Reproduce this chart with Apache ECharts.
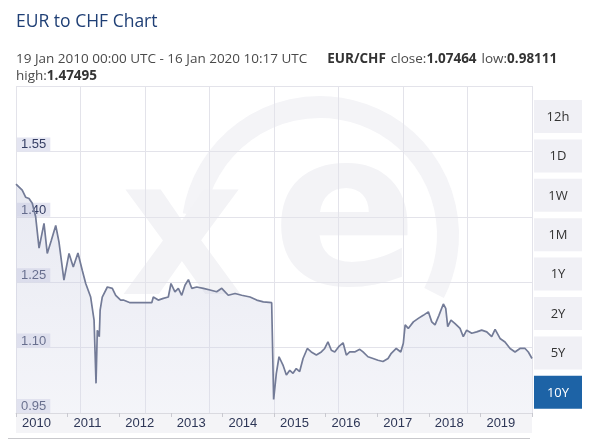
<!DOCTYPE html>
<html>
<head>
<meta charset="utf-8">
<script src="https://cdn.jsdelivr.net/npm/echarts@6/dist/echarts.min.js"></script>
<style>
html, body { margin: 0; padding: 0; background: #fff; }
#chart { width: 592px; height: 443px; }
</style>
</head>
<body>
<div id="chart"></div>
<script>
// EUR/CHF daily close
var dates = [
  '2010-01-19','2010-03-04','2010-03-28','2010-04-21','2010-05-14','2010-06-07','2010-07-01','2010-08-05',
  '2010-08-28','2010-09-26','2010-10-27','2010-11-19','2010-12-24','2011-01-29','2011-02-28','2011-04-02',
  '2011-05-03','2011-05-27','2011-07-01','2011-07-25','2011-08-08','2011-08-17','2011-08-31','2011-09-06',
  '2011-09-21','2011-10-27','2011-12-01','2011-12-25','2012-01-29','2012-02-17','2012-04-05','2012-09-05',
  '2012-09-16','2012-10-21','2012-11-26','2012-12-31','2013-01-19','2013-02-16','2013-03-12','2013-04-05',
  '2013-04-28','2013-05-22','2013-06-15','2013-07-20','2013-09-05','2013-10-22','2013-12-08','2014-01-13',
  '2014-02-28','2014-04-17','2014-06-03','2014-08-01','2014-09-17','2014-11-03','2015-01-01','2015-01-14',
  '2015-01-15','2015-02-03','2015-02-22','2015-03-22','2015-04-15','2015-05-09','2015-06-01','2015-06-24',
  '2015-07-18','2015-08-11','2015-09-10','2015-10-08','2015-11-13','2015-12-18','2016-01-11','2016-02-03',
  '2016-02-27','2016-03-22','2016-04-19','2016-05-20','2016-06-12','2016-07-06','2016-08-10','2016-09-15',
  '2016-10-08','2016-11-12','2016-12-18','2017-01-22','2017-02-26','2017-04-03','2017-04-26','2017-05-31',
  '2017-07-02','2017-07-20','2017-08-02','2017-08-24','2017-09-29','2017-11-03','2017-12-08','2018-01-13',
  '2018-02-06','2018-03-01','2018-03-29','2018-04-29','2018-05-16','2018-05-30','2018-06-22','2018-07-21',
  '2018-08-25','2018-09-17','2018-10-11','2018-11-16','2018-12-21','2019-01-25','2019-03-02','2019-04-06',
  '2019-04-30','2019-06-04','2019-07-09','2019-08-14','2019-09-18','2019-10-23','2019-11-28','2019-12-21',
  '2020-01-16'
];
var rates = [
  1.475, 1.461, 1.445, 1.442, 1.431, 1.400, 1.328, 1.385,
  1.316, 1.346, 1.380, 1.342, 1.255, 1.316, 1.285, 1.317,
  1.277, 1.247, 1.216, 1.163, 1.018, 1.140, 1.125, 1.186,
  1.216, 1.239, 1.236, 1.220, 1.209, 1.209, 1.203, 1.203,
  1.216, 1.209, 1.213, 1.216, 1.247, 1.228, 1.236, 1.220,
  1.243, 1.256, 1.236, 1.239, 1.236, 1.232, 1.228, 1.236,
  1.220, 1.224, 1.220, 1.216, 1.209, 1.205, 1.203, 1.201,
  0.981, 1.041, 1.079, 1.060, 1.037, 1.048, 1.041, 1.052,
  1.045, 1.075, 1.098, 1.090, 1.083, 1.090, 1.098, 1.113,
  1.094, 1.090, 1.102, 1.111, 1.083, 1.090, 1.090, 1.096,
  1.090, 1.079, 1.075, 1.071, 1.068, 1.075, 1.087, 1.098,
  1.090, 1.110, 1.152, 1.144, 1.159, 1.167, 1.174, 1.182,
  1.159, 1.152, 1.174, 1.200, 1.190, 1.148, 1.163, 1.155,
  1.144, 1.125, 1.140, 1.133, 1.136, 1.140, 1.136, 1.125,
  1.142, 1.121, 1.113, 1.098, 1.090, 1.098, 1.098, 1.090,
  1.075
];
var yearLabels = ['2010','2011','2012','2013','2014','2015','2016','2017','2018','2019'];
var rateTicks = ['0.95','1.10','1.25','1.40','1.55'];
var rangeButtons = ['12h','1D','1W','1M','1Y','2Y','5Y','10Y'];
var activeButton = '10Y';

var chartTitle = 'EUR to CHF Chart';
var periodText = '19 Jan 2010 00:00 UTC - 16 Jan 2020 10:17 UTC';
var pairName = 'EUR/CHF';
var closeRate = '1.07464';
var lowRate = '0.98111';
var highRate = '1.47495';

var chart = echarts.init(document.getElementById('chart'), null, {renderer: 'canvas'});

var seriesData = dates.map(function (d, i) { return [d, rates[i]]; });

var headFont = 'Open Sans';
var axisFont = 'Liberation Sans';

// range buttons on the right
var buttons = [];
rangeButtons.forEach(function (b, i) {
  var on = b === activeButton;
  buttons.push({
    type: 'rect', left: 534, top: 100 + i * 39.4,
    shape: {width: 48, height: 33},
    style: {fill: on ? '#1d63a6' : '#f0f0f5'}
  });
  buttons.push({
    type: 'text', x: 558, y: 117 + i * 39.4,
    style: {text: b, fill: on ? '#fff' : '#333', font: '13px ' + headFont, align: 'center', verticalAlign: 'middle'}
  });
});

var graphics = [
  // xe watermark
  {type: 'arc', z: -10, silent: true, shape: {cx: 320, cy: 235, r: 128, startAngle: Math.PI * 1.05, endAngle: Math.PI * 2.15},
   style: {fill: 'none', stroke: '#f4f4f7', lineWidth: 22}},
  {type: 'text', z: -10, silent: true, x: 182, y: 245,
   style: {text: 'x', font: 'bold 190px "DejaVu Sans"', fill: '#f3f3f6', align: 'center', verticalAlign: 'middle'}},
  {type: 'text', z: -10, silent: true, x: 345, y: 228,
   style: {text: 'e', font: 'bold 215px "DejaVu Sans"', fill: '#f3f3f6', align: 'center', verticalAlign: 'middle'}},
  // x label band
  {type: 'rect', z: -5, silent: true, left: 16, top: 413, shape: {width: 516, height: 20}, style: {fill: '#f4f4f7'}},
  // navigator top line
  {type: 'line', silent: true, shape: {x1: 8, y1: 438.5, x2: 530, y2: 438.5}, style: {stroke: '#c8c8cc', lineWidth: 1}}
].concat(buttons);

var infoRich = {
  n: {fontFamily: headFont, fontSize: 13.5, color: '#4a4a4a', fontWeight: 'normal'},
  b: {fontFamily: headFont, fontSize: 13.5, color: '#333', fontWeight: 'bold'}
};

chart.setOption({
  animation: false,
  backgroundColor: '#fff',
  title: [
    {text: chartTitle, left: 11, top: 8,
     textStyle: {fontFamily: headFont, fontSize: 17.5, fontWeight: 'normal', color: '#1f3f75'}},
    {text: '{n|' + periodText + '}    {b|' + pairName + '} {n|close:}{b|' + closeRate + '} {n|low:}{b|' + lowRate + '}',
     left: 11, top: 45, textStyle: {fontWeight: 'normal', rich: infoRich}},
    {text: '{n|high:}{b|' + highRate + '}', left: 11, top: 64,
     textStyle: {fontWeight: 'normal', rich: infoRich}}
  ],
  grid: {left: 16, right: 60, top: 86, bottom: 30},
  xAxis: [
    {type: 'time', min: dates[0], max: dates[dates.length - 1],
     axisLine: {show: false}, axisTick: {show: false}, axisLabel: {show: false}, splitLine: {show: false}},
    {type: 'value', min: 0, max: 8, interval: 1,
     axisLine: {show: false}, axisTick: {show: false}, axisLabel: {show: false},
     splitLine: {show: true, lineStyle: {color: '#e3e3ea', width: 1}}},
    {type: 'category', data: yearLabels.concat(['']), boundaryGap: false, position: 'bottom',
     axisLine: {show: true, lineStyle: {color: '#dadae0'}},
     axisTick: {show: true, interval: 0, length: 4, inside: false, lineStyle: {color: '#c9c9d0'}},
     axisLabel: {interval: 0, align: 'left', margin: 4, padding: [0, 0, 0, 6],
       fontFamily: axisFont, fontSize: 13, color: '#2d3656'},
     splitLine: {show: false}}
  ],
  yAxis: {
    type: 'value', min: 0.95, max: 1.70, interval: 0.05, position: 'left',
    axisLine: {show: false}, axisTick: {show: false},
    splitLine: {show: true, lineStyle: {color: ['#e3e3ea', 'rgba(0,0,0,0)', 'rgba(0,0,0,0)']}},
    axisLabel: {
      inside: true, margin: 1, verticalAlign: 'bottom',
      formatter: function (v) {
        var s = v.toFixed(2);
        return rateTicks.indexOf(s) >= 0 ? '{b|' + s + '}' : '';
      },
      rich: {b: {backgroundColor: '#e4e5f1', padding: [1, 4, 0, 4], lineHeight: 14,
                 fontFamily: axisFont, fontSize: 13, color: '#343d63'}}
    }
  },
  graphic: graphics,
  series: [{
    type: 'line', xAxisIndex: 0, yAxisIndex: 0, data: seriesData,
    symbol: 'none', z: 3,
    lineStyle: {color: '#737b97', width: 1.7},
    areaStyle: {origin: 'start', color: new echarts.graphic.LinearGradient(0, 0, 0, 1, [
      {offset: 0, color: 'rgba(190,194,218,0.5)'},
      {offset: 1, color: 'rgba(220,222,236,0.45)'}
    ])}
  }]
});
</script>
</body>
</html>
